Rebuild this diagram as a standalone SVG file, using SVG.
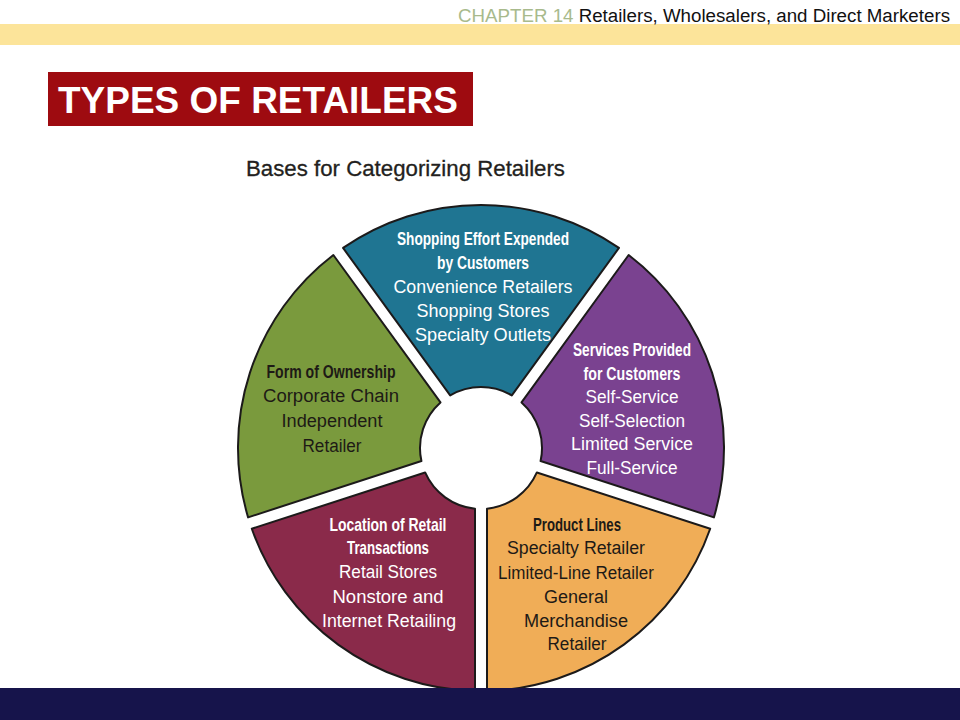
<svg xmlns="http://www.w3.org/2000/svg" width="960" height="720" viewBox="0 0 960 720">
<style>
.seg{stroke:#1c1a1a;stroke-width:2;stroke-linejoin:round}
.t{font-family:"Liberation Sans",Arial,sans-serif;text-anchor:middle}
.h{font-weight:bold;font-size:18.5px}
.r{font-size:18px}
.w{fill:#ffffff}
.d{fill:#1e1a16}
</style>
<rect x="0" y="0" width="960" height="720" fill="#ffffff"/>
<g id="header">
<rect x="0" y="24" width="960" height="21" fill="#fce49a"/>
<text x="458" y="22" font-family="Liberation Sans,Arial,sans-serif" font-size="18" textLength="492" lengthAdjust="spacingAndGlyphs"><tspan fill="#a8ba8c">CHAPTER 14 </tspan><tspan fill="#111111">Retailers, Wholesalers, and Direct Marketers</tspan></text>
</g>
<g id="title">
<rect x="48" y="72" width="425" height="54" fill="#9e0b10"/>
<text x="58" y="113" font-family="Liberation Sans,Arial,sans-serif" font-size="37" font-weight="bold" fill="#ffffff" textLength="400" lengthAdjust="spacingAndGlyphs">TYPES OF RETAILERS</text>
</g>
<g id="chart-title">
<text x="246" y="176" font-family="Liberation Sans,Arial,sans-serif" font-size="21.5" fill="#231f20" stroke="#231f20" stroke-width="0.3" textLength="319" lengthAdjust="spacingAndGlyphs">Bases for Categorizing Retailers</text>
</g>
<g id="seg-shopping-effort">
<path class="seg" fill="#1f7592" d="M450.17,395.36 L343.05,247.94 A243,243 0 0 1 618.95,247.94 L511.83,395.36 A61,61 0 0 0 450.17,395.36 Z"/>
<text class="t h w" x="483" y="245" textLength="172" lengthAdjust="spacingAndGlyphs">Shopping Effort Expended</text>
<text class="t h w" x="483" y="269" textLength="92" lengthAdjust="spacingAndGlyphs">by Customers</text>
<text class="t r w" x="483" y="293" textLength="179" lengthAdjust="spacingAndGlyphs">Convenience Retailers</text>
<text class="t r w" x="483" y="317" textLength="133" lengthAdjust="spacingAndGlyphs">Shopping Stores</text>
<text class="t r w" x="483" y="341" textLength="136" lengthAdjust="spacingAndGlyphs">Specialty Outlets</text>
</g>
<g id="seg-services">
<path class="seg" fill="#7a4290" d="M521.53,402.42 L628.65,255.00 A243,243 0 0 1 713.90,517.36 L540.58,461.05 A61,61 0 0 0 521.53,402.42 Z"/>
<text class="t h w" x="632" y="356" textLength="118" lengthAdjust="spacingAndGlyphs">Services Provided</text>
<text class="t h w" x="632" y="380" textLength="97" lengthAdjust="spacingAndGlyphs">for Customers</text>
<text class="t r w" x="632" y="403" textLength="93" lengthAdjust="spacingAndGlyphs">Self-Service</text>
<text class="t r w" x="632" y="427" textLength="106" lengthAdjust="spacingAndGlyphs">Self-Selection</text>
<text class="t r w" x="632" y="450" textLength="122" lengthAdjust="spacingAndGlyphs">Limited Service</text>
<text class="t r w" x="632" y="474" textLength="91" lengthAdjust="spacingAndGlyphs">Full-Service</text>
</g>
<g id="seg-product-lines">
<path class="seg" fill="#f0ad57" d="M536.88,472.47 L710.20,528.78 A243,243 0 0 1 487,690.93 L487,508.70 A61,61 0 0 0 536.88,472.47 Z"/>
<text class="t h d" x="577" y="531" textLength="88" lengthAdjust="spacingAndGlyphs">Product Lines</text>
<text class="t r d" x="576" y="554" textLength="138" lengthAdjust="spacingAndGlyphs">Specialty Retailer</text>
<text class="t r d" x="576" y="579" textLength="156" lengthAdjust="spacingAndGlyphs">Limited-Line Retailer</text>
<text class="t r d" x="576" y="603" textLength="64" lengthAdjust="spacingAndGlyphs">General</text>
<text class="t r d" x="576" y="627" textLength="104" lengthAdjust="spacingAndGlyphs">Merchandise</text>
<text class="t r d" x="577" y="650" textLength="59" lengthAdjust="spacingAndGlyphs">Retailer</text>
</g>
<g id="seg-location">
<path class="seg" fill="#8a2a4a" d="M475,508.70 L475,690.93 A243,243 0 0 1 251.80,528.78 L425.12,472.47 A61,61 0 0 0 475,508.70 Z"/>
<text class="t h w" x="388" y="531" textLength="117" lengthAdjust="spacingAndGlyphs">Location of Retail</text>
<text class="t h w" x="388" y="554" textLength="82" lengthAdjust="spacingAndGlyphs">Transactions</text>
<text class="t r w" x="388" y="578" textLength="98" lengthAdjust="spacingAndGlyphs">Retail Stores</text>
<text class="t r w" x="388" y="603" textLength="111" lengthAdjust="spacingAndGlyphs">Nonstore and</text>
<text class="t r w" x="389" y="627" textLength="134" lengthAdjust="spacingAndGlyphs">Internet Retailing</text>
</g>
<g id="seg-ownership">
<path class="seg" fill="#7a9a3d" d="M421.42,461.05 L248.10,517.36 A243,243 0 0 1 333.35,255.00 L440.47,402.42 A61,61 0 0 0 421.42,461.05 Z"/>
<text class="t h d" x="331" y="378" textLength="129" lengthAdjust="spacingAndGlyphs">Form of Ownership</text>
<text class="t r d" x="331" y="402" textLength="136" lengthAdjust="spacingAndGlyphs">Corporate Chain</text>
<text class="t r d" x="332" y="427" textLength="101" lengthAdjust="spacingAndGlyphs">Independent</text>
<text class="t r d" x="332" y="452" textLength="59" lengthAdjust="spacingAndGlyphs">Retailer</text>
</g>
<g id="connectors"/>
<g id="footer">
<rect x="0" y="688" width="960" height="32" fill="#16144b"/>
</g>
</svg>
